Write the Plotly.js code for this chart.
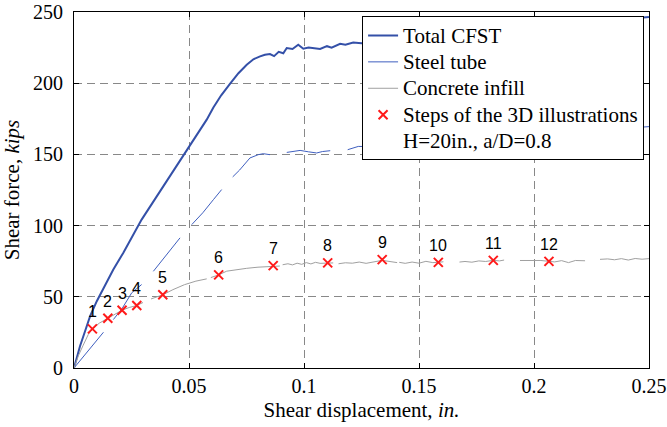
<!DOCTYPE html>
<html>
<head>
<meta charset="utf-8">
<script src="https://cdn.plot.ly/plotly-3.0.1.min.js"></script>
<style>html,body{margin:0;padding:0;background:#fff;}#chart{width:667px;height:427px;}</style>
</head>
<body>
<div id="chart"></div>
<script>
// Total CFST response (shear displacement in., shear force kips)
const totalX = [0, 0.0026, 0.0048, 0.007, 0.0099, 0.0128, 0.0171, 0.0214, 0.0258, 0.0294, 0.0352, 0.042, 0.0475, 0.0519, 0.0577, 0.0606, 0.064, 0.0678, 0.0715, 0.0751, 0.078, 0.0809, 0.083, 0.0852, 0.087, 0.089, 0.091, 0.0925, 0.095, 0.0975, 0.0997, 0.102, 0.107, 0.110, 0.112, 0.1157, 0.118, 0.1214, 0.125, 0.13, 0.14, 0.16, 0.18, 0.20, 0.22, 0.235, 0.245, 0.25];
const totalY = [0, 15.3, 25.8, 36.4, 46.9, 56.3, 69.1, 80.8, 93.7, 104.2, 118.6, 135.5, 149.5, 160, 174.4, 183, 191.5, 199.5, 207, 213, 216.8, 218.8, 220, 220.5, 219, 222, 221, 224.7, 224, 227, 224.2, 225, 224, 226, 225, 227.7, 227, 228.6, 228, 229, 231, 234, 238, 241, 244, 246, 245.8, 246.5];

// Steel tube (gaps in the drawn line)
const steelX = [0, 0.004, 0.0085, 0.0128, null, 0.0171, 0.021, 0.0251, 0.0294, null, 0.0345, 0.040, 0.0461, null, 0.0512, 0.056, 0.0606, 0.0642, null, 0.069, 0.072, 0.0765, 0.0801, 0.0823, 0.0852, null, 0.0925, 0.095, 0.0983, 0.102, 0.1055, 0.108, 0.1114, null, 0.119, 0.1236, 0.13, 0.15, 0.17, 0.19, 0.21, 0.23, 0.25];
const steelY = [0, 8, 16.8, 25.1, null, 34, 42, 52.8, 58.6, null, 67.9, 79, 91.4, null, 100.7, 109, 118.2, 125.3, null, 134.2, 139, 147.5, 149.8, 150.5, 149.8, null, 151.4, 152, 152.8, 151.8, 151, 152, 152.6, null, 153.3, 155.6, 155.5, 158, 161, 163, 165, 167.5, 169.5];

// Concrete infill (gaps in the drawn line)
const concX = [0, 0.002, 0.004, 0.0062, 0.008, 0.011, 0.0147, 0.018, 0.0209, 0.024, 0.0273, 0.030, null, 0.0335, 0.0386, 0.043, 0.048, 0.053, 0.0577, null, 0.0595, 0.0629, 0.0664, 0.070, 0.0751, 0.080, 0.0866, 0.0895, null, 0.0907, 0.093, 0.095, 0.097, 0.099, 0.101, 0.103, 0.105, 0.107, 0.1103, 0.1127, null, 0.115, 0.118, 0.121, 0.124, 0.127, 0.130, 0.134, 0.1405, null, 0.1414, 0.144, 0.147, 0.150, 0.153, 0.156, 0.1584, 0.1606, null, 0.1676, 0.170, 0.173, 0.176, 0.179, 0.1823, 0.185, 0.187, null, 0.1939, 0.197, 0.200, 0.203, 0.2065, 0.209, 0.212, 0.215, 0.218, 0.2222, null, 0.2287, 0.232, 0.235, 0.238, 0.241, 0.244, 0.247, 0.25];
const concY = [0, 9, 16, 23.5, 27.5, 31.5, 34.9, 38, 40.6, 42.5, 43.9, 46, null, 48.5, 51.4, 55, 58.5, 61, 62.6, null, 63.5, 65.4, 68, 69, 70, 70.8, 71.4, 71.6, null, 72.5, 73.2, 72.4, 73.6, 72.8, 74, 73.1, 74.2, 73.5, 73.8, 73.8, null, 73.2, 73.9, 73.6, 74.4, 73.5, 74.5, 75.6, 74, null, 74.2, 73.5, 74.4, 73.6, 74.9, 74, 74.2, 74.6, null, 74.4, 74.8, 74.3, 75.2, 74.8, 75.6, 75.2, 75.8, null, 75.5, 75.6, 75.3, 75.5, 74.9, 74.5, 75.4, 74, 75.5, 75.3, null, 76.3, 76.6, 76, 76.8, 75.8, 76.9, 76.4, 76.8];

// Steps of the 3D illustrations
const stepX = [0.0080, 0.0147, 0.0209, 0.0273, 0.0386, 0.0629, 0.0866, 0.1103, 0.1340, 0.1584, 0.1823, 0.2065];
const stepY = [27.5, 34.9, 40.6, 43.9, 51.4, 65.4, 71.9, 73.8, 76.1, 74.2, 75.6, 74.9];
const stepLabels = ['1','2','3','4','5','6','7','8','9','10','11','12'];

// Legend entry names
const seriesNames = ['Total CFST', 'Steel tube', 'Concrete infill', 'Steps of the 3D illustrations', 'H=20in., a/D=0.8'];

const serif = 'Liberation Serif';
const big = s => '<span style="font-size:21px">' + s + '</span>';

const traces = [
  {x: totalX, y: totalY, type: 'scatter', mode: 'lines', name: big(seriesNames[0]),
   line: {color: '#3450a8', width: 2}},
  {x: steelX, y: steelY, type: 'scatter', mode: 'lines', name: big(seriesNames[1]),
   line: {color: '#3f5fbf', width: 1}, connectgaps: false},
  {x: concX, y: concY, type: 'scatter', mode: 'lines', name: big(seriesNames[2]),
   line: {color: '#a0a0a0', width: 1}, connectgaps: false},
  {x: stepX, y: stepY, type: 'scatter', mode: 'markers', name: big(seriesNames[3]),
   marker: {symbol: 'x-thin', size: 9, color: '#ff1a1a', line: {color: '#ff1a1a', width: 2}}},
  {x: [null], y: [null], type: 'scatter', mode: 'markers', name: big(seriesNames[4]),
   marker: {color: 'rgba(0,0,0,0)', size: 1}}
];

const stepAnnotations = stepX.map((x, i) => ({
  x: x, y: stepY[i], xref: 'x', yref: 'y', text: stepLabels[i], showarrow: false,
  yshift: 17, font: {family: 'Liberation Sans', size: 16, color: '#000'}
}));

const axisCommon = {
  showline: true, linecolor: '#000', linewidth: 1, mirror: 'ticks',
  ticks: 'inside', ticklen: 5, tickcolor: '#000',
  showgrid: true, gridcolor: '#888', gridwidth: 1, griddash: '8px,5px',
  zeroline: false, tickfont: {family: serif, size: 20, color: '#000'}
};

const layout = {
  width: 667, height: 427,
  font: {family: serif, color: '#000'},
  margin: {l: 74, r: 18, t: 12, b: 59},
  paper_bgcolor: '#fff', plot_bgcolor: '#fff',
  showlegend: true,
  legend: {x: 0.501, y: 0.988, xanchor: 'left', yanchor: 'top',
           bgcolor: '#fff', bordercolor: '#000', borderwidth: 1,
           font: {family: serif, size: 18, color: '#000'},
           itemwidth: 30, tracegroupgap: 0},
  annotations: stepAnnotations,
  xaxis: Object.assign({}, axisCommon, {
    range: [0, 0.25], tickvals: [0, 0.05, 0.1, 0.15, 0.2, 0.25],
    ticktext: ['0', '0.05', '0.1', '0.15', '0.2', '0.25'],
    title: {text: 'Shear displacement, <i>in.</i>', font: {family: serif, size: 21, color: '#000'}, standoff: 6}
  }),
  yaxis: Object.assign({}, axisCommon, {
    range: [0, 250], tickvals: [0, 50, 100, 150, 200, 250],
    ticklabelstandoff: 6,
    title: {text: 'Shear force, <i>kips</i>', font: {family: serif, size: 21, color: '#000'}, standoff: 8}
  })
};

Plotly.newPlot('chart', traces, layout, {displayModeBar: false, staticPlot: true});
</script>
</body>
</html>
